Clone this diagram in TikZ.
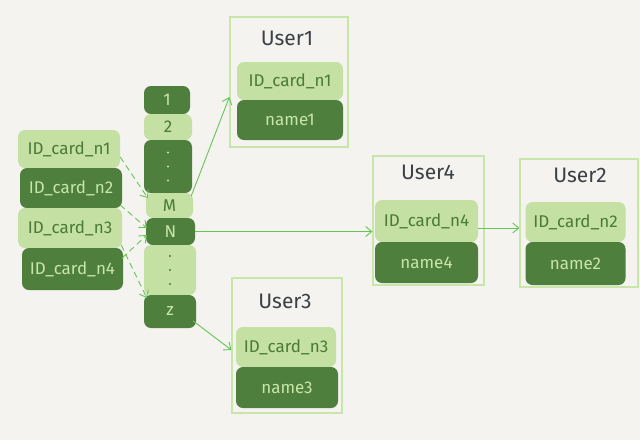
\documentclass[tikz,border=0pt]{standalone}
\usepackage{fontspec}
\setmainfont{Fira Sans}
\usetikzlibrary{arrows.meta}
\definecolor{bg}{HTML}{F4F3EF}
\definecolor{lg}{HTML}{C4E0A2}
\definecolor{dg}{HTML}{4F7F3D}
\definecolor{lgtxt}{HTML}{C8E6A6}
\definecolor{dgtxt}{HTML}{4A7A35}
\definecolor{frame}{HTML}{C9E6AA}
\definecolor{arr}{HTML}{62C853}
\definecolor{title}{HTML}{3B4045}
\tikzset{
  cell/.style={rounded corners=7pt, inner sep=0pt, font=\fontsize{17}{17}\selectfont},
  lcell/.style={cell, fill=lg, text=dgtxt},
  dcell/.style={cell, fill=dg, text=lgtxt},
  userframe/.style={draw=frame, line width=1.2pt, fill=none, inner sep=0pt},
  utitle/.style={text=title, font=\fontsize{21}{21}\selectfont},
  link/.style={draw=arr, line width=0.9pt, -{Straight Barb[length=6pt,width=10pt]}},
  dlink/.style={link, dash pattern=on 6pt off 4pt},
  dotmark/.style={circle, inner sep=0pt, minimum size=2.2pt}
}
\begin{document}
\begin{tikzpicture}[x=1pt,y=-1pt]
\fill[bg] (0,0) rectangle (640,440);
\useasboundingbox (0,0) rectangle (640,440);
% left keys
\node[lcell, minimum width=102pt, minimum height=38pt] (k1) at (69,149) {ID\_card\_n1};
\node[dcell, minimum width=102pt, minimum height=40pt] (k2) at (71,188) {ID\_card\_n2};
\node[lcell, minimum width=104pt, minimum height=40pt] (k3) at (70,228) {ID\_card\_n3};
\node[dcell, minimum width=101pt, minimum height=42pt] (k4) at (72.5,269) {ID\_card\_n4};
% index column
\node[dcell, minimum width=46pt, minimum height=28pt] (i1) at (167,100) {1};
\node[lcell, minimum width=48pt, minimum height=26pt] (i2) at (168,127) {2};
\node[dcell, minimum width=48pt, minimum height=53pt] (id1) at (168,166.5) {};
\node[lcell, minimum width=47pt, minimum height=25pt] (iM) at (169.5,205.5) {M};
\node[dcell, minimum width=49pt, minimum height=27pt] (iN) at (170.5,231.5) {N};
\node[lcell, minimum width=52pt, minimum height=50pt] (id2) at (170,270) {};
\node[dcell, minimum width=52pt, minimum height=33pt] (iz) at (170,311.5) {z};
\foreach \dy in {-14,0,14} {
  \node[dotmark, fill=lgtxt] at ([yshift=\dy pt]id1.center) {};
  \node[dotmark, fill=dgtxt] at ([yshift=\dy pt]id2.center) {};
}
% User1
\node[userframe, minimum width=118pt, minimum height=130pt] (u1) at (289,82) {};
\node[utitle] (u1t) at (287,38) {User1};
\node[lcell, minimum width=106pt, minimum height=38pt] (u1a) at (290,81) {ID\_card\_n1};
\node[dcell, minimum width=106pt, minimum height=40pt] (u1b) at (290,120) {name1};
% User3
\node[userframe, minimum width=110pt, minimum height=135pt] (u3) at (287,345.5) {};
\node[utitle] (u3t) at (285,301) {User3};
\node[lcell, minimum width=100pt, minimum height=40pt] (u3a) at (286,347) {ID\_card\_n3};
\node[dcell, minimum width=102pt, minimum height=41pt] (u3b) at (287,387.5) {name3};
% User4
\node[userframe, minimum width=111pt, minimum height=129pt] (u4) at (428.5,220.5) {};
\node[utitle] (u4t) at (428,172) {User4};
\node[lcell, minimum width=103pt, minimum height=42pt] (u4a) at (426.5,221) {ID\_card\_n4};
\node[dcell, minimum width=103pt, minimum height=41pt] (u4b) at (426.5,262.5) {name4};
% User2
\node[userframe, minimum width=118pt, minimum height=128pt] (u2) at (579,223) {};
\node[utitle] (u2t) at (580,175) {User2};
\node[lcell, minimum width=100pt, minimum height=40pt] (u2a) at (575.5,222) {ID\_card\_n2};
\node[dcell, minimum width=100pt, minimum height=43pt] (u2b) at (575.5,263.5) {name2};
% arrows
\draw[link] ([xshift=-2pt]iM.east |- 0,196) -- (u1.west |- 0,97);
\draw[link] (iN.east) -- (iN.east -| u4.west);
\draw[link] (u4a.east |- 0,228) -- (u2.west |- 0,228);
\draw[link] ([xshift=-3pt]iz.east |- 0,321) -- (u3.west |- 0,350);
\draw[dlink] (k1.east |- 0,157) -- ([xshift=2pt]iM.west |- 0,198);
\draw[dlink] ([xshift=-2pt]k2.east |- 0,205) -- ([xshift=1pt]iN.west |- 0,228);
\draw[dlink] ([xshift=-1pt]k4.east |- 0,258) -- ([xshift=1pt]iN.west |- 0,235);
\draw[dlink] ([xshift=-1pt]k3.east |- 0,245) -- ([xshift=3pt]iz.west |- 0,298);
\end{tikzpicture}
\end{document}
